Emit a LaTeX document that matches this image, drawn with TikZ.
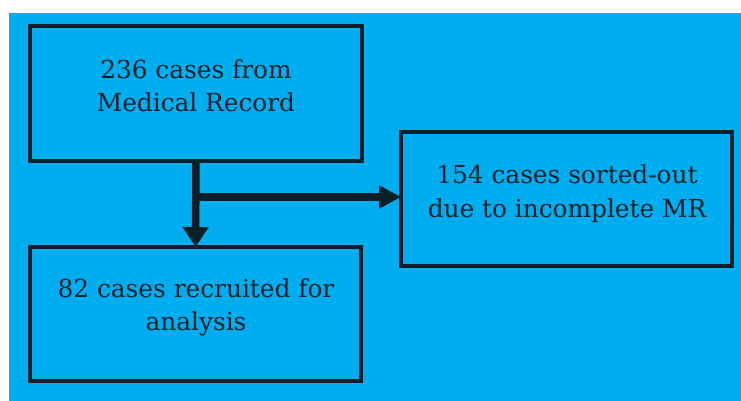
\documentclass[tikz,border=0pt]{standalone}
\usepackage{fontspec}
\newfontfamily\djser{DejaVu Serif}
\usetikzlibrary{arrows.meta}
\definecolor{bgblue}{HTML}{00AEEF}
\definecolor{ink}{HTML}{08202A}
\begin{document}
\begin{tikzpicture}[x=1pt,y=1pt,
  box/.style={draw=ink,line width=4pt,rectangle,outer sep=0pt,inner sep=0pt,minimum width=332pt,minimum height=135pt},
  txt/.style={anchor=base,text=ink,inner sep=0pt,font=\djser\fontsize{24.8}{33}\selectfont},
  flow/.style={draw=ink,line width=7.5pt}]
\useasboundingbox (0,0) rectangle (741,401);
\fill[white] (0,0) rectangle (741,401);
\fill[bgblue] (9,0) rectangle (741,388);
\node[box] (b1) at (196,307) {};
\node[box,minimum width=331pt,minimum height=134pt] (b2) at (566.5,202) {};
\node[box,minimum width=331pt,minimum height=134pt] (b3) at (195.5,87) {};
\node[txt] (t1a) at (196,322) {236 cases from};
\node[txt] (t1b) at (196,289) {Medical Record};
\node[txt] (t2a) at (567,217) {154 cases sorted-out};
\node[txt] (t2b) at (567,183) {due to incomplete MR};
\node[txt] (t3a) at (196,103) {82 cases recruited for};
\node[txt] (t3b) at (196,70) {analysis};
\coordinate (j) at (195.5,204);
\draw[flow,-{Triangle[length=20pt,width=25pt]}] (b1.south) -- (b3.north);
\draw[flow,-{Triangle[length=22pt,width=22pt]}] ([xshift=-3.75pt]j) -- (j -| b2.west);
\end{tikzpicture}
\end{document}
